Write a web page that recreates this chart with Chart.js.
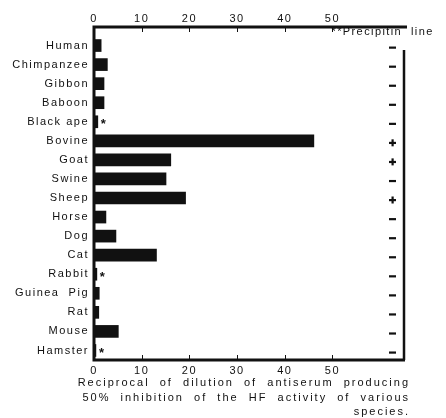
<!DOCTYPE html>
<html>
<head>
<meta charset="utf-8">
<script src="https://cdn.jsdelivr.net/npm/chart.js@4"></script>
<style>
  html, body { margin: 0; padding: 0; background: #fff; }
  canvas { display: block; }
</style>
</head>
<body>
<canvas id="chart" width="446" height="418"></canvas>
<script>
const species = ['Human', 'Chimpanzee', 'Gibbon', 'Baboon', 'Black ape', 'Bovine', 'Goat', 'Swine',
  'Sheep', 'Horse', 'Dog', 'Cat', 'Rabbit', 'Guinea  Pig', 'Rat', 'Mouse', 'Hamster']
const inhibition = [1.5, 2.8, 2.1, 2.1, 0.8, 46.1, 16.1, 15.1, 19.2, 2.5, 4.6, 13.1, 0.6, 1.1, 1.0, 5.1, 0.4]
const precipitin = ['-', '-', '-', '-', '-', '+', '+', '-', '+', '-', '-', '-', '-', '-', '-', '-', '-']
const starred = ['Black ape', 'Rabbit', 'Hamster']
const xTicks = [0, 10, 20, 30, 40, 50]
const xMax = 65
const titleLines = [
  'Reciprocal  of  dilution  of  antiserum  producing',
  '50%  inhibition  of  the  HF  activity  of  various',
  'species.'
]
const legendText = '**Precipitin  line'

const ink = '#111'
const font = 'Liberation Sans, Arial, sans-serif'

// frame, inward ticks, markers and caption
const decorations = {
  id: 'decorations',
  beforeDraw(chart) {
    chart.ctx.letterSpacing = '1.5px'
  },
  afterDraw(chart) {
    const ctx = chart.ctx
    const { left, right, top, bottom } = chart.chartArea
    const x = chart.scales.x
    const y = chart.scales.y
    const frameTop = top - 9

    ctx.save()
    ctx.strokeStyle = ink
    ctx.fillStyle = ink

    ctx.lineWidth = 3
    ctx.beginPath()
    ctx.moveTo(left, frameTop - 1.5)
    ctx.lineTo(left, bottom + 1.5)
    ctx.moveTo(left - 1.5, frameTop)
    ctx.lineTo(right + 3, frameTop)
    ctx.moveTo(left - 1.5, bottom)
    ctx.lineTo(right + 1, bottom)
    ctx.stroke()

    ctx.lineWidth = 2.5
    ctx.beginPath()
    ctx.moveTo(right, top + 14)
    ctx.lineTo(right, bottom)
    ctx.stroke()

    ctx.lineWidth = 1
    ctx.beginPath()
    xTicks.forEach(v => {
      const px = Math.round(x.getPixelForValue(v)) + 0.5
      ctx.moveTo(px, frameTop)
      ctx.lineTo(px, frameTop + 5)
      ctx.moveTo(px, bottom)
      ctx.lineTo(px, bottom - 5)
    })
    ctx.stroke()

    // precipitin line markers
    const mx = right - 12
    precipitin.forEach((s, i) => {
      const py = y.getPixelForValue(i) + 2
      ctx.fillRect(mx - 3, py - 1, 7, 2.2)
      if (s === '+') ctx.fillRect(mx - 0.5, py - 3.5, 2.2, 7)
    })

    // asterisks after bars
    ctx.font = 'bold 13px ' + font
    ctx.letterSpacing = '0px'
    ctx.textBaseline = 'middle'
    ctx.textAlign = 'left'
    species.forEach((s, i) => {
      if (starred.includes(s)) {
        ctx.fillText('*', x.getPixelForValue(inhibition[i]) + 3, y.getPixelForValue(i) + 3)
      }
    })

    ctx.font = '11px ' + font
    ctx.letterSpacing = '1.4px'
    ctx.fillText(legendText, x.getPixelForValue(50) - 1, top - 4)

    ctx.letterSpacing = '2px'
    ctx.textAlign = 'right'
    titleLines.forEach((line, i) => {
      ctx.fillText(line, right + 6, bottom + 23 + i * 14.5)
    })
    ctx.restore()
  }
}

const tickFont = { family: font, size: 11 }

new Chart(document.getElementById('chart'), {
  type: 'bar',
  data: {
    labels: species,
    datasets: [{
      data: inhibition,
      backgroundColor: ink,
      borderWidth: 0,
      barThickness: 12,
      xAxisID: 'x'
    }]
  },
  options: {
    indexAxis: 'y',
    responsive: false,
    animation: false,
    layout: { padding: { left: 0, right: 42, top: 0, bottom: 0 } },
    plugins: {
      legend: { display: false },
      tooltip: { enabled: false }
    },
    scales: {
      y: {
        grid: { display: false, drawTicks: false },
        border: { display: false },
        ticks: { color: ink, font: tickFont, padding: 5, autoSkip: false },
        afterFit(scale) { scale.width = 94 }
      },
      x: {
        position: 'bottom',
        min: 0,
        max: xMax,
        grid: { display: false, drawTicks: false },
        border: { display: false },
        ticks: { color: ink, font: tickFont, padding: 4 },
        afterBuildTicks(scale) { scale.ticks = xTicks.map(v => ({ value: v })) },
        afterFit(scale) { scale.height = 58 }
      },
      x2: {
        position: 'top',
        min: 0,
        max: xMax,
        grid: { display: false, drawTicks: false },
        border: { display: false },
        ticks: { color: ink, font: tickFont, padding: 10 },
        afterBuildTicks(scale) { scale.ticks = xTicks.map(v => ({ value: v })) },
        afterFit(scale) { scale.height = 36 }
      }
    }
  },
  plugins: [decorations]
})
</script>
</body>
</html>
